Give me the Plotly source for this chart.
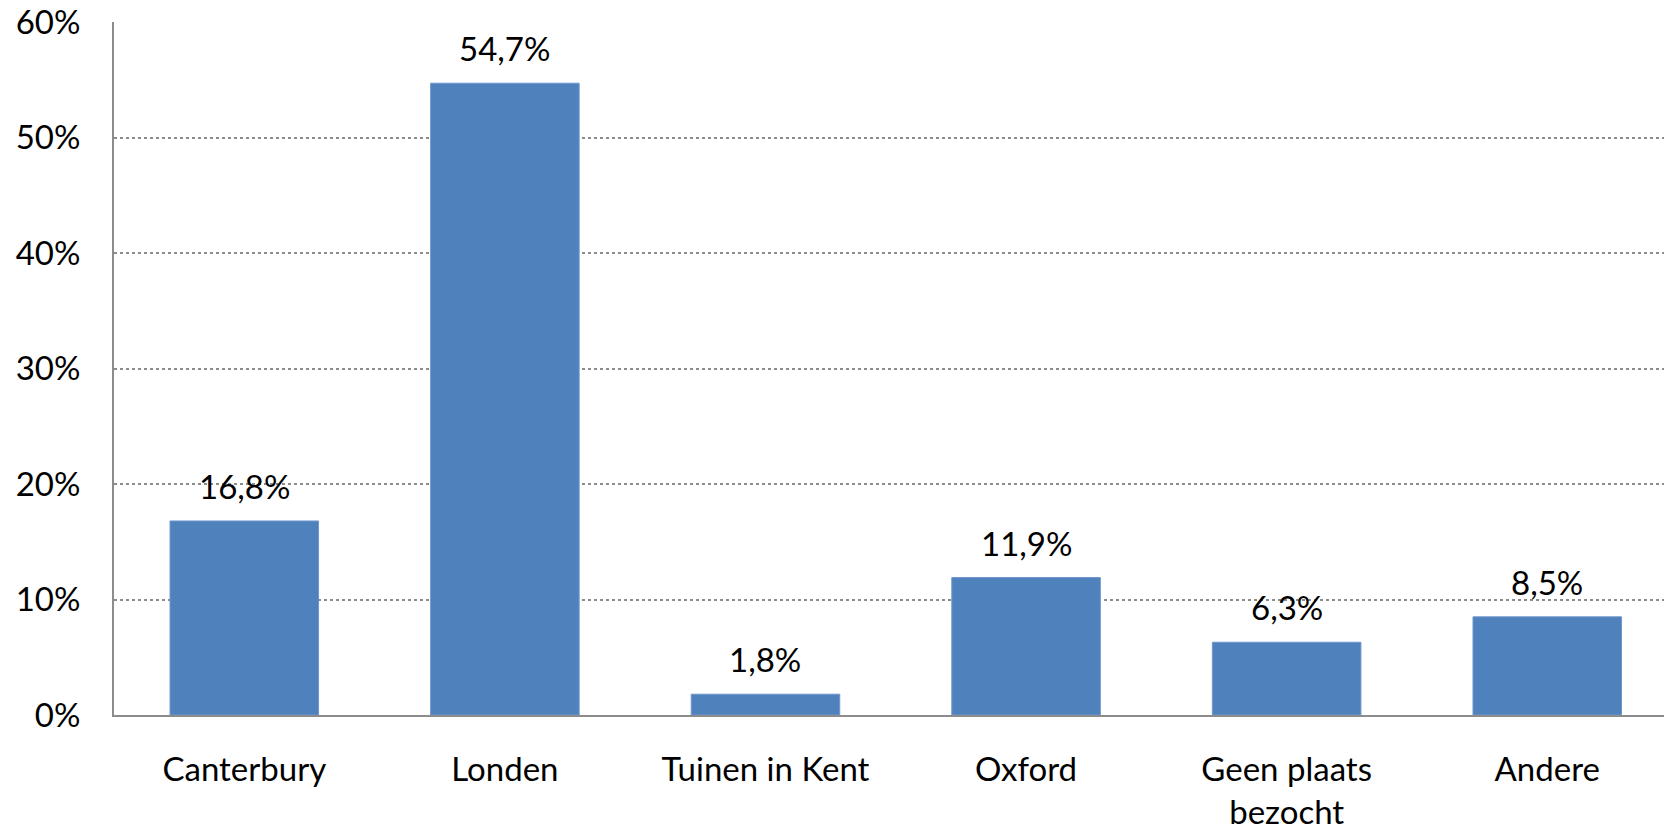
import plotly.graph_objects as go

categories = ["Canterbury", "Londen", "Tuinen in Kent", "Oxford", "Geen plaats<br>bezocht", "Andere"]
values = [16.8, 54.7, 1.8, 11.9, 6.3, 8.5]
y_ticks = [0, 10, 20, 30, 40, 50, 60]
y_tick_labels = [f"{t}%" for t in y_ticks]

BAR_COLOR = "#4F81BD"
AXIS_COLOR = "#8C8C8C"
FONT = "Lato"
FONT_SIZE = 33

fig = go.Figure()
fig.add_trace(go.Bar(
    x=categories,
    y=values,
    width=0.57,
    marker=dict(color=BAR_COLOR, line=dict(color="#6F97CC", width=1)),
    hoverinfo="skip",
))

# value labels above each bar
for cat, v in zip(categories, values):
    fig.add_annotation(
        x=cat, y=v, text=f"{v:.1f}".replace(".", ",") + "%",
        showarrow=False, yanchor="bottom", yshift=13,
        font=dict(family=FONT, size=FONT_SIZE, color="#000000"),
    )

fig.update_layout(
    width=1664, height=831,
    margin=dict(l=114, r=0, t=22, b=113),
    paper_bgcolor="white", plot_bgcolor="white",
    showlegend=False,
    font=dict(family=FONT, size=FONT_SIZE, color="#000000"),
)
fig.update_xaxes(
    range=[-0.5, 5.448],
    showline=True, linecolor=AXIS_COLOR, linewidth=2,
    showgrid=False, ticks="", ticklabelstandoff=24,
    tickfont=dict(family=FONT, size=FONT_SIZE),
)
fig.update_yaxes(
    range=[0, 60], tickmode="array", tickvals=y_ticks, ticktext=y_tick_labels,
    showline=True, linecolor=AXIS_COLOR, linewidth=2,
    showgrid=True, gridcolor=AXIS_COLOR, gridwidth=2, griddash="dot",
    zeroline=False, ticks="", ticklabelstandoff=25,
    tickfont=dict(family=FONT, size=FONT_SIZE),
)

fig.write_html("out.html")
